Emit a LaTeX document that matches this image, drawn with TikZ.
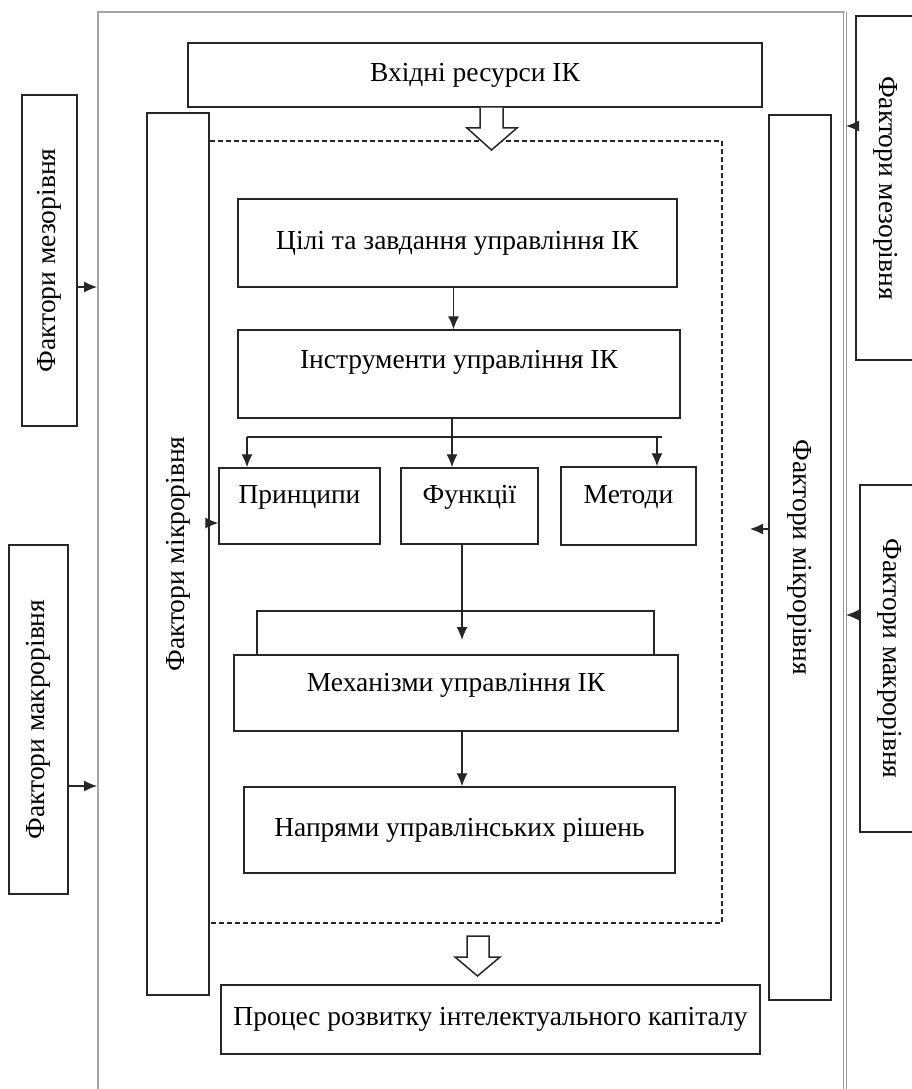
\documentclass[tikz,border=0pt]{standalone}
\usepackage{fontspec}
\setmainfont{Liberation Serif}
\usetikzlibrary{arrows.meta}

\begin{document}
\begin{tikzpicture}
	[x=1pt, y=-1pt,
	font=\fontsize{27.5}{32}\selectfont,
	box/.style={draw=black!85, line width=1.5pt, fill=white, inner sep=2pt},
	lift/.style={text height=18pt, text depth=#1},
	line/.style={draw=black!85, line width=1.1pt},
	link/.style={line, -{Latex[length=13pt,width=11pt]}},
	outer/.style={draw=gray!70, line width=1.8pt},
	outerdbl/.style={draw=gray!80, line width=0.9pt, double=white, double distance=1.4pt},
	dashbox/.style={draw=black!85, line width=1.2pt, dash pattern=on 5pt off 3pt},
	hollow/.style={draw=black!85, line width=1.5pt, fill=white, line join=miter}]
	\clip (0,0) rectangle (912,1089);
	\draw[outer] (98,1100) -- (98,12) -- (845,12);
	\draw[outerdbl] (845,12) -- (845,1100);
	\draw[dashbox] (209,141) rectangle (722,923);
	% centre
	\node[box, minimum width=574, minimum height=64] (in) at (475,75) {Вхідні ресурси ІК};
	\node[box, minimum width=439, minimum height=88] (goals) at (457.5,243) {Цілі та завдання управління ІК};
	\node[box, lift=30pt, minimum width=442, minimum height=88] (instr) at (459,374) {Інструменти управління ІК};
	\node[box, lift=24pt, minimum width=161, minimum height=76] (princ) at (299.5,506) {Принципи};
	\node[box, lift=24pt, minimum width=137, minimum height=76] (funcs) at (469.5,506) {Функції};
	\node[box, lift=24pt, minimum width=135, minimum height=78] (meth) at (628.5,506) {Методи};
	\node[box, lift=22pt, minimum width=444, minimum height=76] (mech) at (456,693) {Механізми управління ІК};
	\node[box, minimum width=431, minimum height=86] (dirs) at (459.5,830) {Напрями управлінських рішень};
	\node[box, minimum width=539, minimum height=69] (proc) at (490.5,1019.5) {Процес розвитку інтелектуального капіталу};
	% sides
	\node[box, rotate=90, minimum width=882, minimum height=62] (micL) at (178,554) {Фактори мікрорівня};
	\node[box, rotate=-90, minimum width=885, minimum height=62] (micR) at (800,557.5) {Фактори мікрорівня};
	\node[box, rotate=90, minimum width=331, minimum height=55] (mezL) at (49.5,260.5) {Фактори мезорівня};
	\node[box, rotate=90, minimum width=349, minimum height=59] (macL) at (38.5,719.5) {Фактори макрорівня};
	\node[box, rotate=-90, minimum width=344, minimum height=60] (mezR) at (886,188) {Фактори мезорівня};
	\node[box, rotate=-90, minimum width=347, minimum height=60] (macR) at (890,658.5) {Фактори макрорівня};
	\coordinate (brL) at (247,437);
	\coordinate (brR) at (657,437);
	\coordinate (fm) at (462,640);
	\coordinate (mr) at (750,529);
	\coordinate (fr1) at (97,287);
	\coordinate (fr2) at (97,786);
	\coordinate (fr3) at (846,126);
	\coordinate (fr4) at (846,615);
	\draw[link] ([xshift=-4pt]goals.south) -- ([xshift=-4pt]goals.south |- instr.north);
	\draw[link] ([xshift=-7pt]instr.south) -- ([xshift=-7pt]instr.south |- funcs.north);
	\draw[line] (brL) -- (662,437);
	\draw[link] (brL) -- (brL |- princ.north);
	\draw[link] (brR) -- (brR |- meth.north);
	\draw[link] (funcs.south -| fm) -- (fm);
	\draw[line] (257,0 |- mech.north) -- (257,611) -- (654,611) -- (654,0 |- mech.north);
	\draw[link] ([xshift=6pt]mech.south) -- ([xshift=6pt]mech.south |- dirs.north);
	\draw[link] (micL.south |- 0,523) -- (princ.west |- 0,523);
	\draw[link] (micR.south |- mr) -- (mr);
	\draw[link] (mezL.south |- fr1) -- (fr1);
	\draw[link] (macL.south |- fr2) -- (fr2);
	\draw[link] (mezR.south |- fr3) -- (fr3);
	\draw[link] (macR.south |- fr4) -- (fr4);
	\draw[hollow] (480,0 |- in.south) -- (480,128) -- (467,128) -- (491.5,150) -- (517,128) -- (503,128) -- (503,0 |- in.south);
	\draw[hollow] (467,936) -- (467,957) -- (455,957) -- (477.5,976) -- (500,957) -- (489,957) -- (489,936) -- cycle;
\end{tikzpicture}
\end{document}
